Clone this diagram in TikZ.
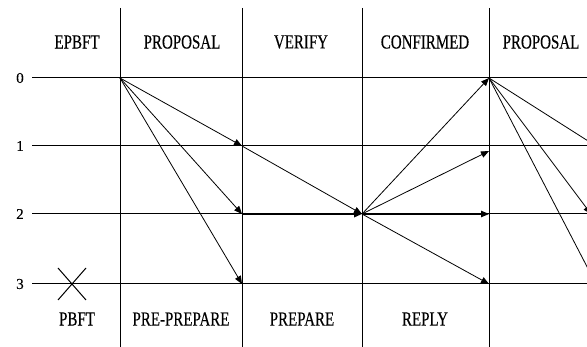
\documentclass[tikz,border=0pt]{standalone}
\usepackage{fontspec}
\setmainfont{Liberation Serif}[FakeStretch=0.75,FakeBold=0.3]
\newfontfamily\digitfont{Liberation Serif}[FakeBold=0.3]
\usetikzlibrary{arrows.meta}

\begin{document}
\begin{tikzpicture}[x=1pt,y=-1pt,
  grid/.style={line width=1pt},
  msg/.style={line width=0.8pt,-{Triangle[length=8pt,width=6.5pt]}},
  phase/.style={font=\fontsize{20}{20}\selectfont},
  rownum/.style={font=\digitfont\fontsize{15}{15}\selectfont}]

\useasboundingbox (0,0) rectangle (587,347);

  %% grid points
  \foreach \c/\x in {a/120,b/242,c/362,d/489}
    \foreach \r/\y in {0/78,1/146,2/214,3/284}
      \coordinate (\c\r) at (\x,\y);
  \coordinate (d1low) at (489,151);
  \coordinate (e1) at (596,146);
  \coordinate (e2) at (591,214);
  \coordinate (e3) at (596,284);

  %% columns and rows
  \foreach \x in {120,242,362,489}
    \draw[grid] (\x,8) -- (\x,347);
  \foreach \r/\y in {0/78,1/146,2/214,3/284}{
    \node[rownum] (row\r) at (20,\y) {\r};
    \draw[grid] (32,\y) -- (587,\y);
  }

  %% phases (top: EPBFT)
  \node[phase] (epbft) at (77,42) {EPBFT};
  \node[phase] (prop1) at (182,42) {PROPOSAL};
  \node[phase] (verify) at (301,42) {VERIFY};
  \node[phase] (confirmed) at (425,42) {CONFIRMED};
  \node[phase] (prop2) at (541,42) {PROPOSAL};

  %% phases (bottom: PBFT)
  \node[phase] (pbft) at (77,319) {PBFT};
  \node[phase] (preprepare) at (181,319) {PRE-PREPARE};
  \node[phase] (prepare) at (302,319) {PREPARE};
  \node[phase] (reply) at (425,319) {REPLY};

  %% crossed out
  \draw[grid] (58,268) -- (86,300) (86,268) -- (58,300);

  %% messages
  \draw[msg] (a0) -- (b1);
  \draw[msg] (a0) -- (b2);
  \draw[msg] (a0) -- (b3);

  \draw[msg] (b1) -- (c2);
  \draw[msg,line width=1.8pt] (b2) -- (c2);

  \draw[msg] (c2) -- (d0);
  \draw[msg] (c2) -- (d1low);
  \draw[msg] (c2) -- (d2);
  \draw[msg] (c2) -- (d3);

  \begin{scope}
    \clip (0,0) rectangle (587,347);
    \draw[msg] (d0) -- (e1);
    \draw[msg] (d0) -- (e2);
    \draw[msg] (d0) -- (e3);
  \end{scope}

\end{tikzpicture}
\end{document}
